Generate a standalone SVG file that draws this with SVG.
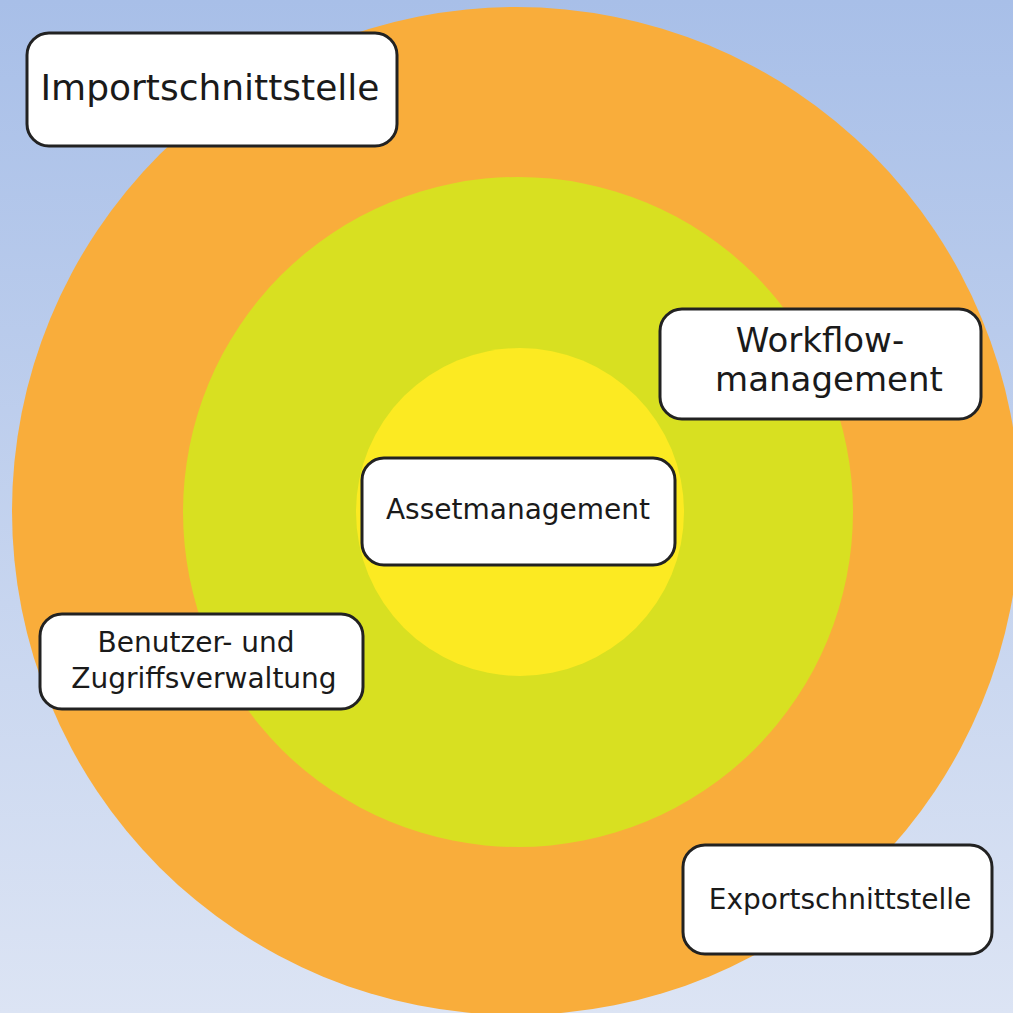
<svg xmlns="http://www.w3.org/2000/svg" width="1013" height="1013" viewBox="0 0 1013 1013">
  <defs>
    <linearGradient id="bg" x1="0" y1="0" x2="0" y2="1">
      <stop offset="0" stop-color="#a8bfe8"/>
      <stop offset="1" stop-color="#dce4f4"/>
    </linearGradient>
    <style>
      .box { fill: #ffffff; stroke: #222222; stroke-width: 3; }
      .lbl { font-family: "DejaVu Sans", "Liberation Sans", sans-serif; fill: #1a1a1a; text-anchor: middle; }
    </style>
  </defs>
  <rect x="0" y="0" width="1013" height="1013" fill="url(#bg)"/>
  <g id="rings">
    <circle cx="516" cy="511" r="504" fill="#f9ad3b"/>
    <circle cx="518" cy="512" r="335" fill="#d8e021"/>
    <circle cx="520" cy="512" r="164" fill="#fcea22"/>
  </g>
  <g id="connectors"></g>
  <g id="import">
    <rect class="box" x="27" y="33" width="370" height="113" rx="22" ry="22"/>
    <text class="lbl" x="210" y="100" font-size="36">Importschnittstelle</text>
  </g>
  <g id="workflow">
    <rect class="box" x="660" y="309" width="321" height="110" rx="22" ry="22"/>
    <text class="lbl" x="820" y="352" font-size="34">Workflow-</text>
    <text class="lbl" x="829" y="391" font-size="34">management</text>
  </g>
  <g id="asset">
    <rect class="box" x="362" y="458" width="313" height="107" rx="22" ry="22"/>
    <text class="lbl" x="518" y="519" font-size="28">Assetmanagement</text>
  </g>
  <g id="benutzer">
    <rect class="box" x="40" y="614" width="323" height="95" rx="22" ry="22"/>
    <text class="lbl" x="196" y="652" font-size="28">Benutzer- und</text>
    <text class="lbl" x="204" y="688" font-size="28">Zugriffsverwaltung</text>
  </g>
  <g id="export">
    <rect class="box" x="683" y="845" width="309" height="109" rx="22" ry="22"/>
    <text class="lbl" x="840" y="909" font-size="28">Exportschnittstelle</text>
  </g>
</svg>
